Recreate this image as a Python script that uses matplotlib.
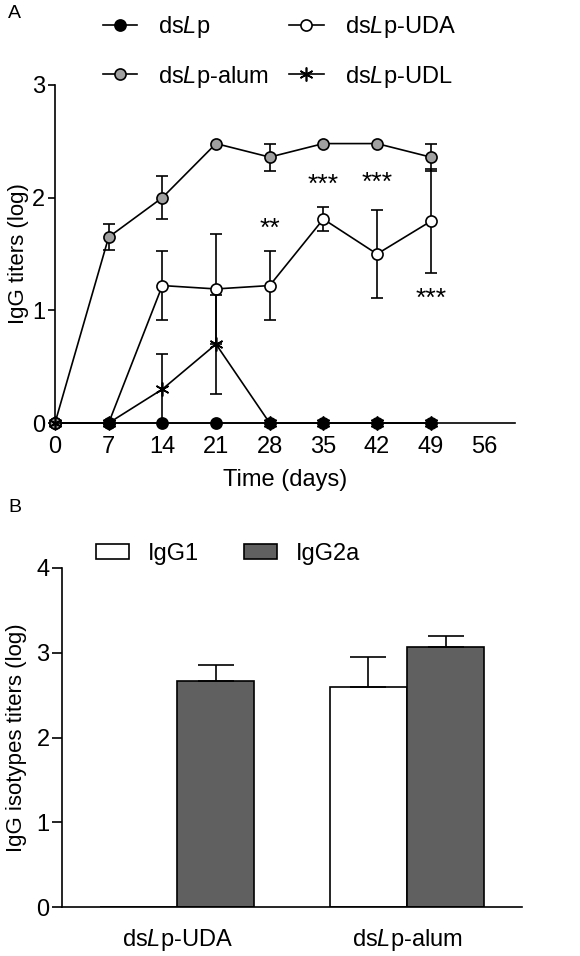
import matplotlib.pyplot as plt
import numpy as np

plt.rcParams["font.family"] = ["Liberation Sans", "DejaVu Sans"]
plt.rcParams["mathtext.fontset"] = "custom"
plt.rcParams["mathtext.rm"] = "Liberation Sans"
plt.rcParams["mathtext.it"] = "Liberation Sans:italic"

# Panel A: IgG titers over time
days = [0, 7, 14, 21, 28, 35, 42, 49]
dslp = [0, 0, 0, 0, 0, 0, 0, 0]
dslp_alum = [0, 1.65, 2.0, 2.48, 2.36, 2.48, 2.48, 2.36]
dslp_alum_err = [0, 0.115, 0.19, 0, 0.12, 0, 0, 0.12]
dslp_uda = [0, 0, 1.22, 1.19, 1.22, 1.81, 1.50, 1.79]
dslp_uda_err = [0, 0, 0.31, 0.49, 0.31, 0.11, 0.39, 0.46]
dslp_udl = [0, 0, 0.30, 0.70, 0, 0, 0, 0]
dslp_udl_err = [0, 0, 0.31, 0.44, 0, 0, 0, 0]

sig_days = [28, 35, 42, 49]
sig_y = [1.72, 2.11, 2.13, 1.10]
sig_labels = ["**", "***", "***", "***"]

# Panel B: IgG isotypes
groups = ["ds$\\it{L}$p-UDA", "ds$\\it{L}$p-alum"]
igg1 = [0, 2.59]
igg1_err = [0, 0.36]
igg2a = [2.66, 3.07]
igg2a_err = [0.19, 0.12]

LW = 1.2
FS = 17


def series(ax, x, y, err, label, z, **kw):
    ax.plot(x, y, color="black", lw=LW, label=label, zorder=z, clip_on=False,
            markeredgecolor="black", markeredgewidth=LW, **kw)
    xe = [a for a, e in zip(x, err) if e > 0]
    ye = [b for b, e in zip(y, err) if e > 0]
    ee = [e for e in err if e > 0]
    if xe:
        ax.errorbar(xe, ye, yerr=ee, fmt="none", ecolor="black", elinewidth=LW,
                    capsize=4.3, capthick=LW, zorder=z - 0.5)


fig = plt.figure(figsize=(5.8, 9.56), dpi=100)

ax = fig.add_axes([0.0948, 0.5575, 0.7932, 0.3536])
series(ax, days, dslp_uda, dslp_uda_err, "ds$\\it{L}$p-UDA", 3,
       marker="o", markersize=8, markerfacecolor="white")
series(ax, days, dslp, [0] * len(days), "ds$\\it{L}$p", 4,
       marker="o", markersize=8, markerfacecolor="black")
series(ax, days, dslp_alum, dslp_alum_err, "ds$\\it{L}$p-alum", 5,
       marker="o", markersize=8, markerfacecolor="#a0a0a0")
series(ax, days, dslp_udl, dslp_udl_err, "ds$\\it{L}$p-UDL", 6,
       marker=(6, 2, 0), markersize=10)

for d, yv, s in zip(sig_days, sig_y, sig_labels):
    ax.text(d, yv, s, ha="center", va="center", fontsize=19)

ax.set_xlim(0, 60)
ax.set_ylim(0, 3)
ax.set_xticks([0, 7, 14, 21, 28, 35, 42, 49, 56])
ax.set_yticks([0, 1, 2, 3])
ax.spines["top"].set_visible(False)
ax.spines["right"].set_visible(False)
for sp in ax.spines.values():
    sp.set_linewidth(LW)
ax.tick_params(axis="x", length=0, pad=9, labelsize=FS)
ax.tick_params(axis="y", length=5, width=LW, labelsize=FS, pad=2)
ax.set_xlabel("Time (days)", fontsize=FS, labelpad=8)
ax.set_ylabel("IgG titers (log)", fontsize=16, labelpad=2)

h, l = ax.get_legend_handles_labels()
order = [1, 2, 0, 3]
ax.legend([h[i] for i in order], [l[i] for i in order], ncol=2, frameon=False,
          fontsize=17, loc="upper left", bbox_to_anchor=(103 / 580, 1 - 14 / 956),
          bbox_transform=fig.transFigure, borderpad=0, borderaxespad=0,
          handlelength=1.45, handletextpad=0.9, columnspacing=0.85, labelspacing=1.0)

fig.text(8 / 580, 1 - 14 / 956, "A", fontsize=14, va="center")
fig.text(8 / 580, 1 - 508 / 956, "B", fontsize=14, va="center")

# Panel B
bx = fig.add_axes([0.107, 0.0509, 0.793, 0.3553])
x = np.arange(len(groups))
w = 0.336
bx.bar(x - w / 2, igg1, w, color="white", edgecolor="black", linewidth=LW, label="IgG1")
bx.bar(x + w / 2, igg2a, w, color="#606060", edgecolor="black", linewidth=LW, label="IgG2a")
for xs, vals, errs in [(x - w / 2, igg1, igg1_err), (x + w / 2, igg2a, igg2a_err)]:
    for xi, v, e in zip(xs, vals, errs):
        if e > 0:
            bx.errorbar(xi, v, yerr=[[0], [e]], fmt="none", ecolor="black",
                        elinewidth=LW, capsize=13, capthick=LW, zorder=1)
bx.set_xlim(-0.5, 1.5)
bx.set_ylim(0, 4)
bx.set_yticks([0, 1, 2, 3, 4])
bx.set_xticks(x)
bx.set_xticklabels(groups)
bx.spines["top"].set_visible(False)
bx.spines["right"].set_visible(False)
for sp in bx.spines.values():
    sp.set_linewidth(LW)
bx.tick_params(axis="x", length=0, pad=14, labelsize=FS)
bx.tick_params(axis="y", length=7, width=LW, labelsize=FS, pad=2)
bx.set_ylabel("IgG isotypes titers (log)", fontsize=16, labelpad=7)
bx.legend(ncol=2, frameon=False, fontsize=17, loc="center left",
          bbox_to_anchor=(96 / 580, 1 - 554 / 956), bbox_transform=fig.transFigure,
          borderpad=0, borderaxespad=0, handlelength=1.4, handleheight=0.6,
          handletextpad=0.8, columnspacing=1.9)

fig.savefig("out.png", dpi=100)
